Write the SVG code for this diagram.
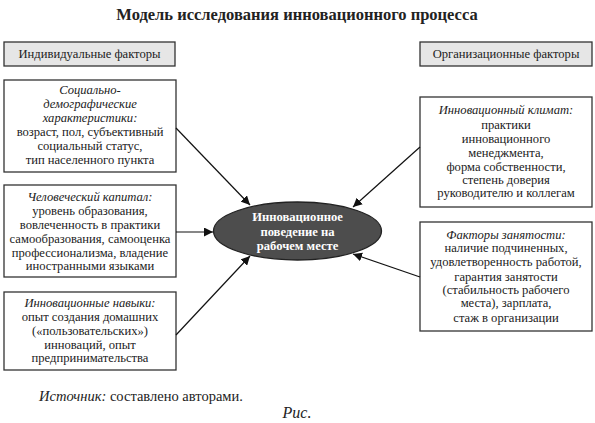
<svg xmlns="http://www.w3.org/2000/svg" width="595" height="423" viewBox="0 0 595 423">
<defs>
<style>
text{font-family:'Liberation Serif','DejaVu Serif','Times New Roman',serif;fill:#222;text-anchor:middle;font-size:12.6px}
.title{font-size:16.5px;font-weight:bold}
.hdr{fill:#e6e6e6;stroke:#333;stroke-width:1.3}
.box{fill:#fff;stroke:#333;stroke-width:1.3}
.it{font-style:italic}
.ell{fill:#4d4d4d;stroke:#222;stroke-width:1.3}
.wt{fill:#fff;font-weight:bold}
.con line{stroke:#111;stroke-width:1.2;marker-end:url(#ah)}
</style>
<marker id="ah" viewBox="0 0 10 10" refX="10" refY="5" markerWidth="9" markerHeight="9" markerUnits="userSpaceOnUse" orient="auto">
<path d="M0,0 L10,5 L0,10 z" fill="#111"/>
</marker>
</defs>
<rect width="595" height="423" fill="#fff"/>
<g font-family="Liberation Serif, DejaVu Serif, serif">
<text class="title" x="297" y="20">Модель исследования инновационного процесса</text>

<g id="hdr-left"><rect class="hdr" x="4" y="42" width="171" height="24"/><text x="89.5" y="58">Индивидуальные факторы</text></g>
<g id="hdr-right"><rect class="hdr" x="420" y="42" width="172" height="24"/><text x="506" y="58">Организационные факторы</text></g>

<g id="box-social"><rect class="box" x="4" y="80" width="172" height="92"/>
<text x="90" y="94" class="it">Социально-</text>
<text x="90" y="108" class="it">демографические</text>
<text x="90" y="122" class="it">характеристики:</text>
<text x="90" y="136">возраст, пол, субъективный</text>
<text x="90" y="150">социальный статус,</text>
<text x="90" y="164">тип населенного пункта</text></g>

<g id="box-capital"><rect class="box" x="4" y="185" width="172" height="92"/>
<text x="90" y="201" class="it">Человеческий капитал:</text>
<text x="90" y="215">уровень образования,</text>
<text x="90" y="229">вовлеченность в практики</text>
<text x="90" y="243">самообразования, самооценка</text>
<text x="90" y="257">профессионализма, владение</text>
<text x="90" y="270">иностранными языками</text></g>

<g id="box-skills"><rect class="box" x="4" y="292" width="172" height="78"/>
<text x="90" y="307" class="it">Инновационные навыки:</text>
<text x="90" y="321">опыт создания домашних</text>
<text x="90" y="335">(«пользовательских»)</text>
<text x="90" y="349">инноваций, опыт</text>
<text x="90" y="362">предпринимательства</text></g>

<g id="box-climate"><rect class="box" x="420" y="97" width="172" height="110"/>
<text x="506" y="114" class="it">Инновационный климат:</text>
<text x="506" y="129">практики</text>
<text x="506" y="143">инновационного</text>
<text x="506" y="157">менеджмента,</text>
<text x="506" y="171">форма собственности,</text>
<text x="506" y="184">степень доверия</text>
<text x="506" y="197">руководителю и коллегам</text></g>

<g id="box-employment"><rect class="box" x="420" y="222" width="172" height="109"/>
<text x="506" y="239" class="it">Факторы занятости:</text>
<text x="506" y="252">наличие подчиненных,</text>
<text x="506" y="266">удовлетворенность работой,</text>
<text x="506" y="281">гарантия занятости</text>
<text x="506" y="294">(стабильность рабочего</text>
<text x="506" y="307">места), зарплата,</text>
<text x="506" y="322">стаж в организации</text></g>

<g id="center"><ellipse class="ell" cx="297.5" cy="231" rx="84" ry="29"/>
<text class="wt" x="297.5" y="221">Инновационное</text>
<text class="wt" x="297.5" y="236">поведение на</text>
<text class="wt" x="297.5" y="250">рабочем месте</text></g>

<g class="con" id="connectors">
<line x1="176" y1="128" x2="250" y2="205"/>
<line x1="176" y1="232" x2="213" y2="232"/>
<line x1="176" y1="335" x2="250" y2="256"/>
<line x1="420" y1="147" x2="353" y2="207"/>
<line x1="420" y1="277" x2="353" y2="254"/>
</g>

<text x="141" y="401" style="font-size:14.5px"><tspan class="it">Источник:</tspan> составлено авторами.</text>
<text x="297" y="418" class="it" style="font-size:16px">Рис.</text>
</g>
</svg>
